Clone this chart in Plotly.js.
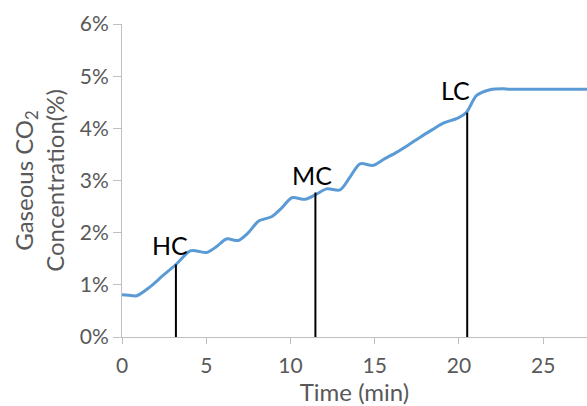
<!DOCTYPE html>
<html>
<head>
<meta charset="utf-8">
<script src="https://cdn.plot.ly/plotly-3.0.1.min.js"></script>
<style>html,body{margin:0;padding:0;background:#fff;}#chart{width:587px;height:406px;}</style>
</head>
<body>
<div id="chart"></div>
<script>
// Time (min) and gaseous CO2 concentration (%)
const times = [0, 0.4, 0.87, 1.66, 2.4, 3.2, 4.04, 4.43, 5.02, 5.6, 6.2, 6.9, 7.5, 8.1, 8.9, 9.5, 10.08, 10.87, 11.5, 12.15, 12.94, 13.5, 14.13, 14.9, 15.6, 16.3, 17.0, 17.7, 18.4, 19.07, 19.96, 20.45, 21.05, 21.84, 22.63, 23.0, 25.0, 27.6];
const co2 = [0.81, 0.80, 0.79, 0.96, 1.17, 1.39, 1.65, 1.65, 1.62, 1.73, 1.88, 1.85, 2.0, 2.22, 2.31, 2.48, 2.67, 2.64, 2.73, 2.84, 2.82, 3.05, 3.32, 3.29, 3.42, 3.54, 3.68, 3.83, 3.97, 4.10, 4.20, 4.31, 4.63, 4.74, 4.76, 4.75, 4.75, 4.75];

// Marker lines: HC, MC, LC
const markerLabels = ["HC", "MC", "LC"];
const markerTimes = [3.2, 11.48, 20.49];
const markerTops = [1.39, 2.77, 4.30];
const labelX = [2.85, 11.28, 19.77];
const labelY = [1.76, 3.10, 4.74];

const traces = [{
  x: times, y: co2, type: 'scatter', mode: 'lines',
  line: {color: '#5B9BD5', width: 3, shape: 'spline', smoothing: 0.8},
  hoverinfo: 'skip', showlegend: false
}];
markerTimes.forEach((t, i) => {
  traces.push({
    x: [t, t], y: [0, markerTops[i]], type: 'scatter', mode: 'lines',
    line: {color: '#000000', width: 2}, showlegend: false, hoverinfo: 'skip'
  });
});

const annotations = markerLabels.map((lab, i) => ({
  x: labelX[i], y: labelY[i], xref: 'x', yref: 'y', text: lab,
  showarrow: false, font: {family: 'Lato, sans-serif', size: 25, color: '#000000'}
}));

const tickFont = {family: 'Lato, sans-serif', size: 21, color: '#595959'};
const titleFont = {family: 'Lato, sans-serif', size: 24, color: '#595959'};

const layout = {
  width: 587, height: 406,
  margin: {l: 122, r: 0, t: 24, b: 69},
  paper_bgcolor: '#ffffff', plot_bgcolor: '#ffffff',
  showlegend: false,
  font: tickFont,
  xaxis: {
    range: [0, 27.6], dtick: 5, tick0: 0,
    showgrid: false, zeroline: false,
    showline: true, linecolor: '#bfbfbf', linewidth: 1,
    ticks: 'outside', ticklen: 6, tickcolor: '#bfbfbf',
    ticklabelstandoff: 4,
    tickfont: tickFont,
    title: {text: 'Time (min)', font: titleFont, standoff: 2}
  },
  yaxis: {
    range: [0, 6], dtick: 1, tick0: 0, ticksuffix: '%',
    showgrid: false, zeroline: false,
    showline: true, linecolor: '#bfbfbf', linewidth: 1,
    ticks: 'outside', ticklen: 8, tickcolor: '#bfbfbf',
    tickfont: tickFont,
    title: {text: 'Gaseous CO<sub>2</sub><br>Concentration(%)', font: titleFont, standoff: 8}
  },
  annotations: annotations
};

Plotly.newPlot('chart', traces, layout, {staticPlot: true, displayModeBar: false});
</script>
</body>
</html>
